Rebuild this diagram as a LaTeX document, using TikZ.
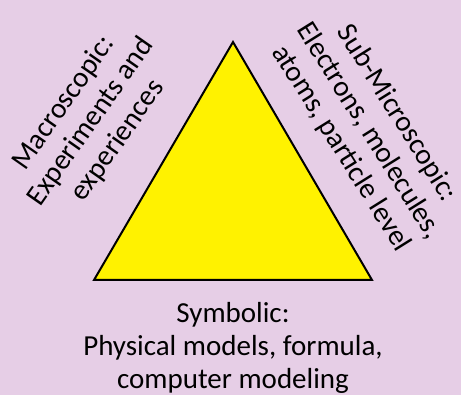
\documentclass[tikz,border=0pt]{standalone}
\usepackage{fontspec}
\setmainfont{Carlito}
\usetikzlibrary{positioning}
\definecolor{bgpink}{RGB}{230,206,230}

\begin{document}
\begin{tikzpicture}[x=1pt,y=-1pt,
    lbl/.style={align=center,font=\fontsize{29}{33}\selectfont,inner sep=0pt}]
      \useasboundingbox (0,0) rectangle (461,395);
      \fill[bgpink] (0,0) rectangle (461,395);
      \draw[fill=yellow,line width=2pt,line join=miter] (233,42) -- (372,280) -- (94,280) -- cycle;
      \node[lbl,rotate=55] (macro) at (91,122) {Macroscopic:\\Experiments and\\experiences};
      \node[lbl,rotate=-58] (submicro) at (369,131) {Sub-Microscopic:\\Electrons, molecules,\\atoms, particle level};
      \node[lbl] (symb) at (233,348) {Symbolic:\\Physical models, formula,\\computer modeling};
    \end{tikzpicture}
\end{document}
